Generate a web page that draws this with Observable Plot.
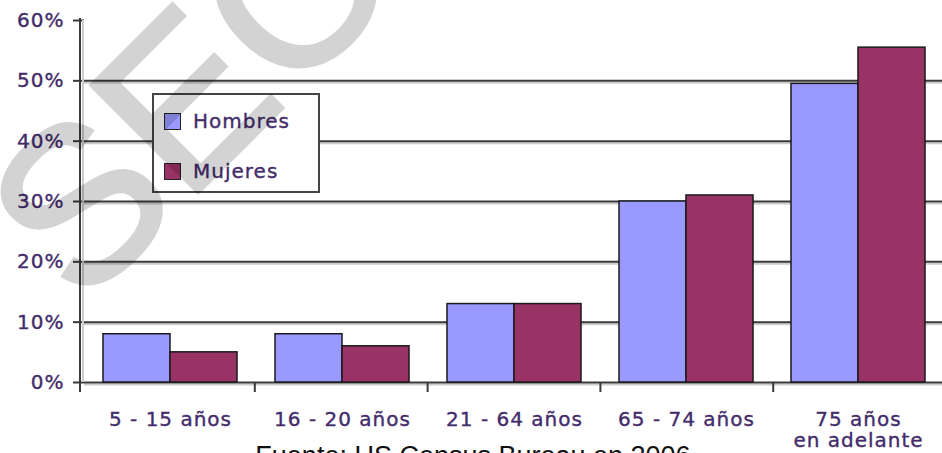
<!DOCTYPE html>
<html>
<head>
<meta charset="utf-8">
<script src="https://cdn.jsdelivr.net/npm/d3@7"></script>
<script src="https://cdn.jsdelivr.net/npm/@observablehq/plot@0.6"></script>
<style>
  html, body { margin: 0; padding: 0; background: #fff; overflow: hidden; }
  #wrap { position: relative; width: 942px; height: 453px; overflow: hidden; }
  #wrap svg { display: block; }
  #wrap svg text { letter-spacing: 1px; stroke: #432b6b; stroke-width: 0.35px; }
  #wrap svg g[aria-label^="y-axis"] line, #wrap svg g[aria-label^="y-axis"] path { stroke: #3a3a3a; stroke-width: 2px; }
  #legend { position: absolute; left: 152px; top: 93px; width: 164px; height: 96px; border: 2px solid #444; background: #fff;
            font-family: "DejaVu Sans", sans-serif; font-size: 20px; color: #432b6b; letter-spacing: 1px; -webkit-text-stroke: 0.35px #432b6b; }
  .item { position: absolute; left: 10px; display: flex; align-items: center; }
  .sw { width: 15px; height: 15px; border: 1px solid #222; margin-right: 12px; }
  #caption { position: absolute; left: 0; top: 443px; width: 942px; text-align: center; padding-left: 4px; box-sizing: border-box;
             font-family: "Liberation Sans", Arial, sans-serif; font-size: 27px; line-height: 27px; color: #111; white-space: nowrap; }
  #wm { position: absolute; left: 28px; top: 255px; transform-origin: 0 0; transform: rotate(-45deg);
        font-family: "Liberation Sans", Arial, sans-serif; font-size: 220px; line-height: 0; color: #000; opacity: 0.17;
        -webkit-text-stroke: 4px #000; pointer-events: none; white-space: nowrap; }
</style>
</head>
<body>
<div id="wrap"></div>
<script>
// ---- data ----
const groups = ["5 - 15 años", "16 - 20 años", "21 - 64 años", "65 - 74 años", "75 años\nen adelante"];
const series = ["Hombres", "Mujeres"];
const hombres = [8, 8, 13, 30, 49.5];
const mujeres = [5, 6, 13, 31, 55.5];
const yTicks = [0, 10, 20, 30, 40, 50, 60];
const gridVals = [0, 10, 20, 30, 40, 50];
const colors = ["#9999ff", "#993366"];
const caption = "Fuente: US Census Bureau en 2006";
const watermark = "SEO";

const rows = groups.flatMap((g, i) => [
  {group: g, serie: series[0], value: hombres[i]},
  {group: g, serie: series[1], value: mujeres[i]}
]);

const chart = Plot.plot({
  width: 942,
  height: 453,
  marginTop: 20,
  marginBottom: 71,
  marginLeft: 80,
  marginRight: 0,
  style: {fontFamily: "DejaVu Sans, sans-serif", fontSize: "20px", color: "#432b6b", background: "transparent", overflow: "hidden"},
  facet: {data: rows, x: "group"},
  fx: {domain: groups, range: [82, 946], padding: 0, axis: null, label: null},
  x: {domain: series, axis: null, paddingInner: 0, paddingOuter: 0.28},
  y: {domain: [0, 60], ticks: yTicks, tickFormat: d => d + "%", tickSize: 11, tickPadding: 9, label: null},
  color: {domain: series, range: colors},
  marks: [
    Plot.ruleY(gridVals, {stroke: "#cccccc", strokeWidth: 2, dy: 2}),
    Plot.ruleY(gridVals, {stroke: "#3a3a3a", strokeWidth: 2}),
    Plot.barY(rows, {x: "serie", y: "value", fill: "serie", stroke: "#1a1a1a", strokeWidth: 1.5, inset: 0}),
    Plot.text(rows, {filter: d => d.serie === series[0], text: "group", frameAnchor: "bottom", lineAnchor: "top",
                     dy: 29, fill: "#432b6b", fontSize: 20, lineHeight: 1.05})
  ]
});

// axis line and category boundary ticks, positioned through the plot's scales
const ys = Plot.scale({y: chart.scale("y")});
const fxs = chart.scale("fx");
const svg = d3.select(chart);
const y0 = ys.apply(0), yTop = ys.apply(60);
const r0 = fxs.range[0], r1 = fxs.range[1];
const step = (r1 - r0) / fxs.domain.length;
const axisX = 80;
svg.append("line").attr("x1", axisX + 3).attr("x2", axisX + 3).attr("y1", yTop).attr("y2", y0)
   .attr("stroke", "#cccccc").attr("stroke-width", 2);
svg.append("line").attr("x1", axisX).attr("x2", axisX).attr("y1", yTop - 2).attr("y2", y0 + 10)
   .attr("stroke", "#3a3a3a").attr("stroke-width", 2);
fxs.domain.forEach((d, i) => {
  if (i === 0) return;
  const x = r0 + i * step;
  svg.append("line").attr("x1", x).attr("x2", x).attr("y1", y0).attr("y2", y0 + 10)
     .attr("stroke", "#3a3a3a").attr("stroke-width", 2);
});

const wrap = document.getElementById("wrap");
wrap.appendChild(chart);

// legend
const legend = document.createElement("div");
legend.id = "legend";
series.forEach((s, i) => {
  const it = document.createElement("div");
  it.className = "item";
  it.style.top = (i === 0 ? 14 : 64) + "px";
  const sw = document.createElement("div");
  sw.className = "sw";
  sw.style.background = colors[i];
  it.appendChild(sw);
  it.appendChild(document.createTextNode(s));
  legend.appendChild(it);
});
wrap.appendChild(legend);

const cap = document.createElement("div");
cap.id = "caption";
cap.textContent = caption;
wrap.appendChild(cap);

const wm = document.createElement("div");
wm.id = "wm";
wm.textContent = watermark;
wrap.appendChild(wm);
</script>
</body>
</html>
